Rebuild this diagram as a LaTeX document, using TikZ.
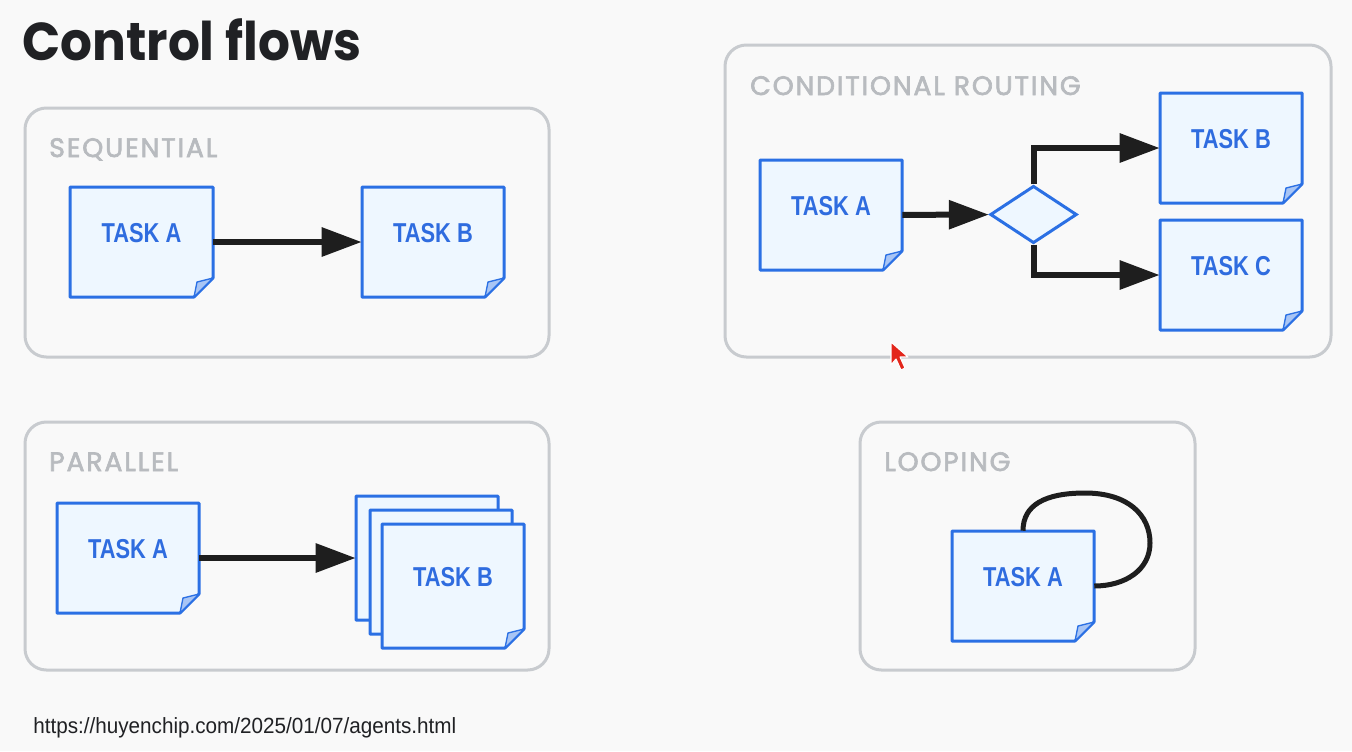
\documentclass[tikz,border=0pt]{standalone}
\usepackage{fontspec}
\usetikzlibrary{arrows.meta,shapes.geometric}
\newfontfamily\titlefont[FakeStretch=0.94]{Poppins}
\newfontfamily\labfont[LetterSpace=7,FakeBold=2.4]{Poppins}
\newfontfamily\condfont[FakeStretch=0.8]{Liberation Sans}
\newfontfamily\urlfont[FakeStretch=0.94]{Liberation Sans}
\definecolor{canvas}{HTML}{F9F9F9}
\definecolor{panelgray}{HTML}{C8CBCF}
\definecolor{labelgray}{HTML}{B8BBBF}
\definecolor{cardfill}{HTML}{EEF7FF}
\definecolor{cardblue}{HTML}{2B70E4}
\definecolor{taskblue}{HTML}{2F6CDF}
\definecolor{foldblue}{HTML}{A8C5F5}
\definecolor{ink}{HTML}{1E1E1E}
\definecolor{titleink}{HTML}{202124}
\definecolor{cursorred}{HTML}{E3261B}
\tikzset{
  panelbox/.style={draw=panelgray, line width=2.25pt, rounded corners=16pt, inner sep=0},
  paneltitle/.style={anchor=base west, text=labelgray, inner sep=0,
    font=\labfont\fontsize{20pt}{20pt}\selectfont},
  card/.style={inner sep=0, text=taskblue,
    font=\condfont\bfseries\fontsize{20.5pt}{20.5pt}\selectfont},
  cardshape/.style={fill=cardfill, draw=cardblue, line width=2.25pt, line join=round},
  fold/.style={fill=foldblue, draw=cardblue, line width=1pt, line join=round},
  flow/.style={draw=ink, line width=4.5pt, -{Triangle[length=30pt,width=21pt]}},
  loopline/.style={draw=ink, line width=3.75pt},
}
\newcommand\mkcard[6]{%
  \draw[cardshape] (#2,#3) -- (#4,#3) -- (#4,#5-19) -- (#4-19,#5) -- (#2,#5) -- cycle;
  \filldraw[fold] (#4,#5-19) -- (#4-19,#5) -- (#4-16,#5-15) -- cycle;
  \node[card, minimum width={(#4-#2)*0.75pt}, minimum height={(#5-#3)*0.75pt}]
    (#1) at ({(#2+#4)/2},{(#3+#5)/2}) {\raisebox{13.5pt}{#6}};
}
\newcommand\mkpanel[5]{%
  \node[panelbox, minimum width={(#4-#2)*0.75pt}, minimum height={(#5-#3)*0.75pt}]
    (#1) at ({(#2+#4)/2},{(#3+#5)/2}) {};
}
\begin{document}
\begin{tikzpicture}[x=0.75pt,y=-0.75pt]
\useasboundingbox (0,0) rectangle (1352,751);
\fill[canvas] (0,0) rectangle (1352,751);

\node[anchor=base west, inner sep=0, text=titleink,
  font=\titlefont\bfseries\fontsize{40pt}{40pt}\selectfont] (title) at (22,60) {Control flows};

% panels
\mkpanel{pseq}{25}{108}{549}{357}
\mkpanel{ppar}{25}{422}{549}{670}
\mkpanel{pcond}{725}{45}{1331}{357}
\mkpanel{ploop}{860}{422}{1195}{670}
\node[paneltitle] (lseq) at (49,157) {SEQUENTIAL};
\node[paneltitle] (lpar) at (49,471) {PARALLEL};
\node[paneltitle] (lcond) at (750,95) {CONDITIONAL ROUTING};
\node[paneltitle] (lloop) at (884,471) {LOOPING};

% sequential
\mkcard{sa}{70}{187}{213}{297}{TASK A}
\mkcard{sb}{362}{187}{504}{297}{TASK B}
\draw[flow] (sa) -- (sb);

% parallel
\mkcard{pa}{57}{503}{199}{613}{TASK A}
\mkcard{pb3}{356}{496}{498}{620}{}
\mkcard{pb2}{370}{510}{512}{634}{}
\mkcard{pb1}{382}{524}{524}{648}{TASK B}
\draw[flow] (pa) -- (pb3);

% conditional routing
\mkcard{ca}{760}{160}{902}{270}{TASK A}
\mkcard{cb}{1160}{93}{1302}{203}{TASK B}
\mkcard{cc}{1160}{220}{1302}{330}{TASK C}
\node[diamond, draw=cardblue, fill=cardfill, line width=2.25pt, inner sep=0,
  minimum width=65pt, minimum height=43pt] (dia) at (1033.5,214.5) {};
\draw[flow] (ca) -- (dia);
\draw[flow] (dia.north) |- (cb.west);
\draw[flow] (dia.south) |- (cc.west);

% looping
\mkcard{la}{952}{531}{1094}{641}{TASK A}
\coordinate (ltop) at (1085,493);
\coordinate (lright) at (1150,543);
\draw[loopline] (la.north) .. controls (1023,505) and (1045,493) .. (ltop)
  .. controls (1128,493) and (1150,515) .. (lright)
  .. controls (1150,570) and (1125,586) .. (la.east);

% url
\node[anchor=base west, inner sep=0, text=titleink,
  font=\urlfont\fontsize{16.5pt}{17pt}\selectfont] (url) at (33,733)
  {https://huyenchip.com/2025/01/07/agents.html};

% mouse pointer
\filldraw[fill=cursorred, draw=white, line width=0.8pt, line join=round]
  (891,342) -- (891,365) -- (896,359) -- (901,370) -- (905,368) -- (900,357) -- (908,357) -- cycle;
\end{tikzpicture}
\end{document}
